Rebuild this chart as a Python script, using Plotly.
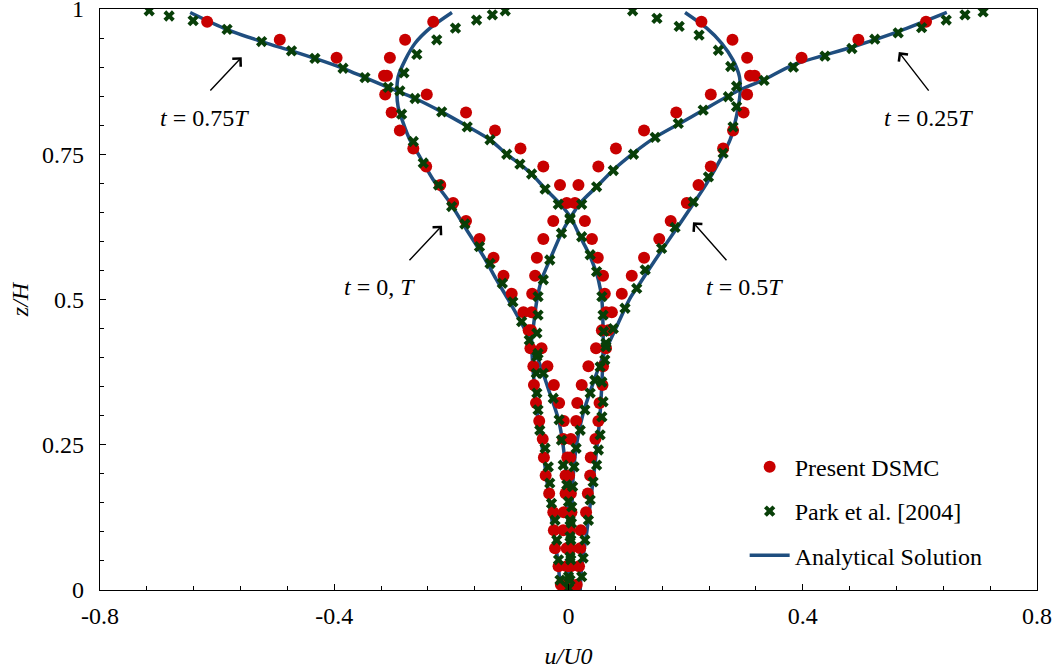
import plotly.graph_objects as go

# ---------------- data ----------------
# Analytical solution curves
ana_t0_u = [-0.199, -0.2365, -0.262, -0.279, -0.291, -0.293, -0.291, -0.282, -0.271, -0.254, -0.231, -0.202,
            -0.174, -0.145, -0.123, -0.103, -0.077, -0.054, -0.032, -0.017, -0.009, -0.003, 0.000, 0.000]
ana_t0_z = [0.994, 0.967, 0.941, 0.912, 0.883, 0.855, 0.832, 0.803, 0.775, 0.746, 0.706, 0.666,
            0.620, 0.574, 0.534, 0.500, 0.453, 0.402, 0.339, 0.293, 0.247, 0.184, 0.098, 0.0]

ana_t25_u = [0.646, 0.563, 0.486, 0.384, 0.333, 0.287, 0.230, 0.190, 0.148, 0.111, 0.0765, 0.048, 0.020,
             0.0026, -0.012, -0.032, -0.046, -0.054, -0.060, -0.063, -0.060, -0.052, -0.040, -0.029, -0.017, -0.0145]
ana_t25_z = [0.994, 0.961, 0.935, 0.904, 0.878, 0.858, 0.826, 0.803, 0.779, 0.752, 0.723, 0.694, 0.666,
             0.640, 0.614, 0.568, 0.534, 0.499, 0.453, 0.430, 0.373, 0.293, 0.212, 0.126, 0.040, 0.0]

ana_t50_u = [0.199, 0.236, 0.2616, 0.281, 0.292, 0.293, 0.290, 0.284, 0.276, 0.262, 0.236, 0.210,
             0.179, 0.148, 0.122, 0.105, 0.082, 0.059, 0.040, 0.025, 0.014, 0.008, 0.0055, 0.0026]
ana_t50_z = [0.994, 0.967, 0.941, 0.912, 0.883, 0.855, 0.832, 0.803, 0.775, 0.746, 0.700, 0.660,
             0.614, 0.568, 0.528, 0.502, 0.453, 0.402, 0.350, 0.304, 0.252, 0.195, 0.126, 0.0]

ana_t75_u = [-0.646, -0.584, -0.524, -0.473, -0.433, -0.385, -0.3475, -0.308, -0.262, -0.2165, -0.174,
             -0.134, -0.1055, -0.083, -0.063, -0.040, -0.0174, 0.0026, 0.020, 0.037, 0.051, 0.057, 0.059,
             0.059, 0.057, 0.054, 0.048, 0.040, 0.031, 0.0225, 0.020]
ana_t75_z = [0.994, 0.965, 0.944, 0.928, 0.915, 0.898, 0.882, 0.865, 0.846, 0.823, 0.799, 0.775, 0.750,
             0.733, 0.716, 0.691, 0.668, 0.643, 0.608, 0.574, 0.534, 0.499, 0.453, 0.407, 0.356, 0.304,
             0.241, 0.172, 0.098, 0.040, 0.0]

# Present DSMC (cell-centre heights shared by all four instants)
dsmc_z = [0.978, 0.947, 0.916, 0.885, 0.853, 0.822, 0.791, 0.760, 0.729, 0.697, 0.666, 0.635, 0.604, 0.572,
          0.541, 0.510, 0.478, 0.447, 0.416, 0.385, 0.353, 0.322, 0.291, 0.260, 0.228, 0.197, 0.166, 0.134,
          0.103, 0.072, 0.041, 0.009]
dsmc_t0_u = [-0.231, -0.279, -0.305, -0.315, -0.313, -0.302, -0.288, -0.265, -0.243, -0.219, -0.197, -0.175,
             -0.152, -0.128, -0.111, -0.097, -0.077, -0.068, -0.046, -0.036, -0.025, -0.016, -0.008, -0.009,
             -0.002, -0.005, -0.005, -0.008, -0.009, -0.003, -0.003, -0.003]
dsmc_t25_u = [0.6105, 0.495, 0.398, 0.310, 0.243, 0.184, 0.129, 0.081, 0.051, 0.017, -0.003, -0.026,
              -0.043, -0.054, -0.057, -0.062, -0.063, -0.064, -0.065, -0.060, -0.059, -0.0555, -0.050, -0.044,
              -0.042, -0.039, -0.033, -0.026, -0.025, -0.023, -0.017, -0.013]
dsmc_t50_u = [0.227, 0.280, 0.305, 0.318, 0.305, 0.299, 0.281, 0.264, 0.243, 0.222, 0.202, 0.1745,
              0.155, 0.129, 0.108, 0.091, 0.074, 0.068, 0.047, 0.034, 0.0225, 0.015, 0.013, 0.004,
              0.003, 0.001, 0.004, 0.005, 0.002, 0.004, 0.004, 0.004]
dsmc_t75_u = [-0.617, -0.493, -0.396, -0.310, -0.242, -0.175, -0.1255, -0.082, -0.043, -0.0145, 0.011, 0.028,
              0.040, 0.050, 0.059, 0.062, 0.064, 0.057, 0.064, 0.059, 0.058, 0.053, 0.051, 0.046,
              0.038, 0.037, 0.033, 0.030, 0.021, 0.020, 0.018, 0.014]

# Park et al. [2004]
park_t0_u = [-0.108, -0.130, -0.157, -0.193, -0.225, -0.259, -0.281, -0.288, -0.285, -0.265, -0.248, -0.222,
             -0.1995, -0.177, -0.152, -0.134, -0.113, -0.095, -0.080, -0.067, -0.054, -0.043, -0.026, -0.016,
             -0.012, -0.009, -0.003, 0.000, 0.0026, 0.0026, 0.0026, 0.000, 0.000]
park_t0_z = [0.997, 0.990, 0.981, 0.967, 0.947, 0.922, 0.890, 0.859, 0.819, 0.772, 0.735, 0.697,
             0.660, 0.630, 0.591, 0.562, 0.528, 0.496, 0.462, 0.430, 0.402, 0.373, 0.330, 0.293,
             0.258, 0.215, 0.181, 0.152, 0.120, 0.092, 0.057, 0.023, 0.003]

park_t25_u = [0.708, 0.677, 0.645, 0.603, 0.563, 0.523, 0.484, 0.438, 0.384, 0.334, 0.273, 0.230, 0.1875,
              0.148, 0.111, 0.0765, 0.048, 0.0225, 0.0026, -0.012, -0.032, -0.043, -0.052, -0.052, -0.054,
              -0.052, -0.055, -0.054, -0.052, -0.049, -0.040, -0.0345, -0.032, -0.029, -0.023, -0.020,
              -0.017, -0.0145]
park_t25_z = [0.995, 0.990, 0.981, 0.968, 0.959, 0.948, 0.932, 0.919, 0.900, 0.877, 0.849, 0.826, 0.803,
              0.779, 0.750, 0.722, 0.694, 0.664, 0.638, 0.614, 0.568, 0.534, 0.505, 0.473, 0.442,
              0.407, 0.373, 0.339, 0.310, 0.275, 0.244, 0.212, 0.184, 0.149, 0.120, 0.086,
              0.052, 0.017]

park_t50_u = [0.1095, 0.151, 0.189, 0.223, 0.256, 0.277, 0.287, 0.287, 0.281, 0.264, 0.239, 0.213, 0.182,
              0.159, 0.131, 0.1165, 0.0965, 0.0765, 0.064, 0.054, 0.045, 0.037, 0.028, 0.020, 0.013,
              0.0094, 0.007, 0.0055, 0.005, 0.004, 0.004, 0.0026]
park_t50_z = [0.997, 0.984, 0.970, 0.955, 0.929, 0.901, 0.867, 0.832, 0.797, 0.752, 0.711, 0.668, 0.624,
              0.588, 0.551, 0.519, 0.485, 0.450, 0.425, 0.384, 0.361, 0.339, 0.310, 0.275, 0.244,
              0.212, 0.178, 0.143, 0.115, 0.086, 0.052, 0.017]

park_t75_u = [-0.716, -0.682, -0.641, -0.583, -0.524, -0.473, -0.433, -0.385, -0.3475, -0.308, -0.262,
              -0.2165, -0.173, -0.134, -0.1055, -0.083, -0.063, -0.040, -0.0174, 0.0026, 0.0225, 0.037,
              0.048, 0.057, 0.059, 0.060, 0.064, 0.062, 0.057, 0.059, 0.057, 0.054, 0.051, 0.048, 0.042,
              0.037, 0.034, 0.028, 0.025, 0.0225]
park_t75_z = [0.997, 0.988, 0.980, 0.965, 0.944, 0.928, 0.915, 0.898, 0.882, 0.865, 0.846,
              0.823, 0.797, 0.775, 0.750, 0.733, 0.716, 0.690, 0.664, 0.640, 0.608, 0.577,
              0.548, 0.505, 0.473, 0.445, 0.419, 0.396, 0.358, 0.324, 0.298, 0.267, 0.241, 0.215, 0.186,
              0.155, 0.120, 0.086, 0.055, 0.023]

x_tick_vals = [-0.8, -0.4, 0, 0.4, 0.8]
x_tick_text = ["-0.8", "-0.4", "0", "0.4", "0.8"]
y_tick_vals = [0, 0.25, 0.5, 0.75, 1]
y_tick_text = ["0", "0.25", "0.5", "0.75", "1"]

# ---------------- figure ----------------
FONT = "Liberation Serif, Times New Roman, serif"
FS = 24
LINE_C = "#1F4E7F"
RED = "#C80000"
GREEN = "#083F08"

fig = go.Figure()

ana_sets = [(ana_t0_u, ana_t0_z), (ana_t25_u, ana_t25_z), (ana_t50_u, ana_t50_z), (ana_t75_u, ana_t75_z)]
for i, (u, z) in enumerate(ana_sets):
    fig.add_trace(go.Scatter(
        x=u, y=z, mode="lines", name="Analytical Solution",
        line=dict(color=LINE_C, width=3.5, shape="spline", smoothing=0.8),
        legendgroup="ana", showlegend=(i == 0), legendrank=3))

dsmc_u_all = dsmc_t0_u + dsmc_t25_u + dsmc_t50_u + dsmc_t75_u
dsmc_z_all = dsmc_z * 4
fig.add_trace(go.Scatter(
    x=dsmc_u_all, y=dsmc_z_all, mode="markers", name="Present DSMC",
    marker=dict(symbol="circle", size=12, color=RED, line=dict(width=0)),
    legendgroup="dsmc", legendrank=1))

park_u_all = park_t0_u + park_t25_u + park_t50_u + park_t75_u
park_z_all = park_t0_z + park_t25_z + park_t50_z + park_t75_z
fig.add_trace(go.Scatter(
    x=park_u_all, y=park_z_all, mode="markers", name="Park et al. [2004]",
    marker=dict(symbol="x", size=10, color=GREEN, line=dict(width=0)),
    legendgroup="park", legendrank=2))

# arrows (head, tail) and labels
arrows = [
    ((-0.558, 0.917), (-0.614, 0.857)),
    ((-0.216, 0.627), (-0.274, 0.565)),
    ((0.2126, 0.633), (0.272, 0.565)),
    ((0.564, 0.926), (0.617, 0.857)),
]
for (hx, hy), (tx, ty) in arrows:
    fig.add_annotation(x=hx, y=hy, ax=tx, ay=ty, xref="x", yref="y", axref="x", ayref="y",
                       text="", showarrow=True, arrowhead=4, arrowsize=1.6, arrowwidth=1.4,
                       arrowcolor="black", standoff=0, startstandoff=0)

labels = [
    (-0.621, 0.812, "<i>t</i> = 0.75<i>T</i>"),
    (-0.322, 0.522, "<i>t</i> = 0, <i>T</i>"),
    (0.301, 0.522, "<i>t</i> = 0.5<i>T</i>"),
    (0.614, 0.812, "<i>t</i> = 0.25<i>T</i>"),
]
for lx, ly, txt in labels:
    fig.add_annotation(x=lx, y=ly, xref="x", yref="y", text=txt, showarrow=False,
                       font=dict(family=FONT, size=FS, color="black"))

axis_common = dict(
    showgrid=False, zeroline=False, showline=True, linecolor="black", linewidth=1.3,
    mirror=True, ticks="inside", ticklen=6, tickwidth=1, tickcolor="black",
    tickfont=dict(family=FONT, size=FS, color="black"), ticklabeloverflow="allow",
)

fig.update_xaxes(
    range=[-0.8, 0.8], tickmode="array", tickvals=x_tick_vals, ticktext=x_tick_text,
    ticklabelstandoff=4,
    minor=dict(tickmode="linear", tick0=-0.8, dtick=0.08, ticks="inside", ticklen=4,
               tickcolor="black", tickwidth=1, showgrid=False),
    title=dict(text="<i>u/U0</i>", font=dict(family=FONT, size=FS, color="black"), standoff=19),
    **axis_common)
fig.update_yaxes(
    range=[0, 1], tickmode="array", tickvals=y_tick_vals, ticktext=y_tick_text,
    ticklabelstandoff=10,
    minor=dict(tickmode="linear", tick0=0, dtick=0.05, ticks="inside", ticklen=4,
               tickcolor="black", tickwidth=1, showgrid=False),
    title=dict(text="<i>z/H</i>", font=dict(family=FONT, size=FS, color="black"), standoff=6),
    **axis_common)

fig.update_layout(
    width=1064, height=670,
    margin=dict(l=100, r=27, t=9, b=80, autoexpand=False),
    paper_bgcolor="white", plot_bgcolor="white",
    font=dict(family=FONT, size=FS, color="black"),
    legend=dict(x=0.688, y=0.25, xanchor="left", yanchor="top",
                bgcolor="rgba(0,0,0,0)", borderwidth=0,
                font=dict(family=FONT, size=FS, color="black"),
                tracegroupgap=10, traceorder="grouped", itemwidth=40),
    showlegend=True,
)

fig.write_html("out.html", config={"displayModeBar": False},
               post_script="document.body.style.margin='0px';")
